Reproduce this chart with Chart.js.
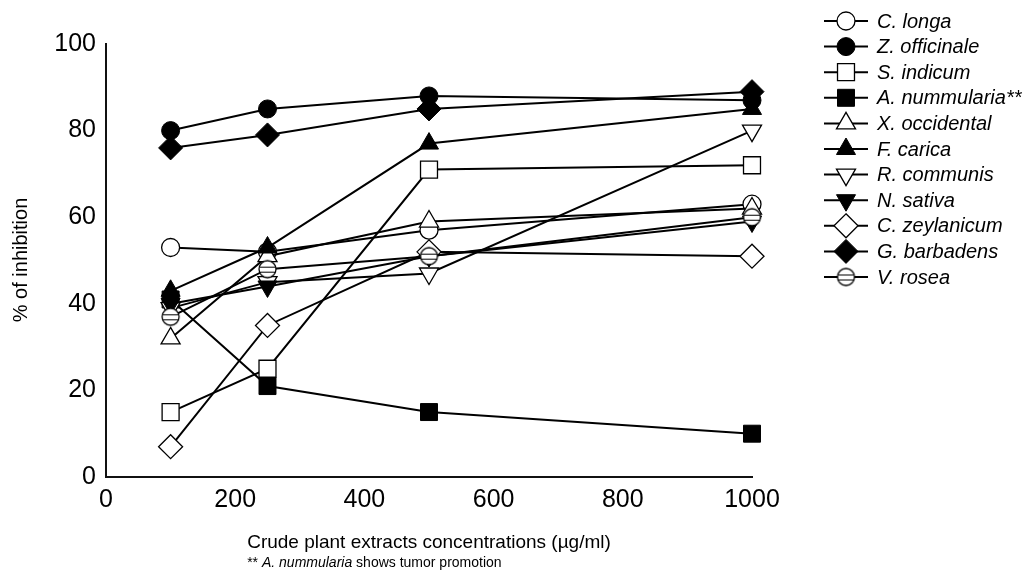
<!DOCTYPE html>
<html>
<head>
<meta charset="utf-8">
<script src="https://cdn.jsdelivr.net/npm/chart.js@4.4.0/dist/chart.umd.min.js"></script>
<style>
  html, body { margin: 0; padding: 0; background: #ffffff; }
  #wrap { width: 1036px; height: 573px; position: relative; }
  canvas { display: block; }
</style>
</head>
<body>
<div id="wrap"><canvas id="chart" width="1036" height="573"></canvas></div>
<script>
// ---------- DATA ----------
const concentrations = [100, 250, 500, 1000];
const seriesLabels = ['C. longa', 'Z. officinale', 'S. indicum', 'A. nummularia**', 'X. occidental',
                      'F. carica', 'R. communis', 'N. sativa', 'C. zeylanicum', 'G. barbadens', 'V. rosea'];
const cLonga      = [53, 52, 57, 63];
const zOfficinale = [80, 85, 88, 87];
const sIndicum    = [15, 25, 71, 72];
const aNummularia = [41, 21, 15, 10];
const xOccidental = [32, 51, 59, 62];
const fCarica     = [43, 53, 77, 85];
const rCommunis   = [39, 45, 47, 80];
const nSativa     = [40, 44, 51, 59];
const cZeylanicum = [7, 35, 52, 51];
const gBarbadens  = [76, 79, 85, 89];
const vRosea      = [37, 48, 51, 60];
const xTickValues = [0, 200, 400, 600, 800, 1000];
const yTickValues = [0, 20, 40, 60, 80, 100];
const xAxisTitle = 'Crude plant extracts concentrations (µg/ml)';
const yAxisTitle = '% of inhibition';
const footnoteParts = ['** ', 'A. nummularia', ' shows tumor promotion'];

const seriesValues = [cLonga, zOfficinale, sIndicum, aNummularia, xOccidental, fCarica,
                      rCommunis, nSativa, cZeylanicum, gBarbadens, vRosea];

// ---------- STYLES ----------
const FONT = "'Liberation Sans', Arial, Helvetica, sans-serif";

function makeStripedCircle(r) {
  const size = Math.ceil(r * 2 + 4);
  const c = document.createElement('canvas');
  c.width = size; c.height = size;
  const g = c.getContext('2d');
  const cx = size / 2, cy = size / 2;
  g.beginPath(); g.arc(cx, cy, r, 0, Math.PI * 2);
  g.fillStyle = '#fff'; g.fill();
  g.lineWidth = 1.3; g.strokeStyle = '#000'; g.stroke();
  g.save();
  g.beginPath(); g.arc(cx, cy, r, 0, Math.PI * 2); g.clip();
  g.lineWidth = 1.2;
  [-2.5, 2.5].forEach(function (dy) {
    g.beginPath(); g.moveTo(cx - r, Math.round(cy + dy) + 0.5); g.lineTo(cx + r, Math.round(cy + dy) + 0.5); g.stroke();
  });
  g.restore();
  return c;
}
const striped = makeStripedCircle(8.5);

const markerStyles = [
  { style: 'circle',   fill: false, r: 9,  rot: 0 },
  { style: 'circle',   fill: true,  r: 9,  rot: 0 },
  { style: 'rect',     fill: false, r: 12, rot: 0 },
  { style: 'rect',     fill: true,  r: 12, rot: 0 },
  { style: 'triangle', fill: false, r: 11, rot: 0 },
  { style: 'triangle', fill: true,  r: 11, rot: 0 },
  { style: 'triangle', fill: false, r: 11, rot: 180 },
  { style: 'triangle', fill: true,  r: 11, rot: 180 },
  { style: 'rectRot',  fill: false, r: 12, rot: 0 },
  { style: 'rectRot',  fill: true,  r: 12, rot: 0 },
  { style: 'striped',  fill: false, r: 9,  rot: 0 }
];

const datasets = seriesLabels.map(function (label, i) {
  const m = markerStyles[i];
  return {
    label: label,
    data: concentrations.map(function (x, j) { return { x: x, y: seriesValues[i][j] }; }),
    borderColor: '#000',
    borderWidth: 2,
    pointStyle: m.style === 'striped' ? striped : m.style,
    pointRadius: m.r,
    pointRotation: m.rot,
    pointBackgroundColor: m.fill ? '#000' : '#fff',
    pointBorderColor: '#000',
    pointBorderWidth: m.fill ? 1 : 1.3,
    fill: false,
    tension: 0,
    clip: false,
    order: seriesLabels.length - i
  };
});

// ---------- LEGEND / TEXT PLUGIN ----------
function drawMarker(ctx, m, x, y) {
  ctx.save();
  ctx.fillStyle = m.fill ? '#000' : '#fff';
  ctx.strokeStyle = '#000';
  ctx.lineWidth = m.fill ? 1 : 1.3;
  const r = m.r;
  if (m.style === 'striped') {
    ctx.drawImage(striped, x - striped.width / 2, y - striped.height / 2);
    ctx.restore();
    return;
  }
  ctx.beginPath();
  if (m.style === 'circle') {
    ctx.arc(x, y, r, 0, Math.PI * 2);
  } else if (m.style === 'rect') {
    const s = Math.SQRT1_2 * r;
    ctx.rect(x - s, y - s, 2 * s, 2 * s);
  } else if (m.style === 'triangle') {
    let rad = m.rot * Math.PI / 180;
    for (let k = 0; k < 3; k++) {
      const px = x + Math.sin(rad) * r, py = y - Math.cos(rad) * r;
      if (k === 0) ctx.moveTo(px, py); else ctx.lineTo(px, py);
      rad += 2 * Math.PI / 3;
    }
    ctx.closePath();
  } else if (m.style === 'rectRot') {
    ctx.moveTo(x, y - r); ctx.lineTo(x + r, y); ctx.lineTo(x, y + r); ctx.lineTo(x - r, y); ctx.closePath();
  }
  ctx.fill();
  ctx.stroke();
  ctx.restore();
}

const decorPlugin = {
  id: 'decor',
  afterDraw: function (chart) {
    const ctx = chart.ctx;
    const area = chart.chartArea;
    ctx.save();
    ctx.fillStyle = '#000';

    // y-axis title
    ctx.save();
    ctx.translate(21, 260);
    ctx.rotate(-Math.PI / 2);
    ctx.font = '20px ' + FONT;
    ctx.textAlign = 'center';
    ctx.textBaseline = 'middle';
    ctx.fillText(yAxisTitle, 0, 0);
    ctx.restore();

    // x-axis title
    ctx.font = '19px ' + FONT;
    ctx.textAlign = 'center';
    ctx.textBaseline = 'middle';
    const cx = (area.left + area.right) / 2;
    ctx.fillText(xAxisTitle, cx, 543);
    const titleW = ctx.measureText(xAxisTitle).width;

    // footnote
    let fx = cx - titleW / 2;
    ctx.textAlign = 'left';
    const fonts = ['14px ' + FONT, 'italic 14px ' + FONT, '14px ' + FONT];
    footnoteParts.forEach(function (t, k) {
      ctx.font = fonts[k];
      ctx.fillText(t, fx, 563);
      fx += ctx.measureText(t).width;
    });

    // legend
    const lx0 = 824, lx1 = 868, tx = 877;
    seriesLabels.forEach(function (label, i) {
      const y = 21 + 25.6 * i;
      ctx.beginPath();
      ctx.lineWidth = 2;
      ctx.strokeStyle = '#000';
      ctx.moveTo(lx0, y); ctx.lineTo(lx1, y); ctx.stroke();
      drawMarker(ctx, markerStyles[i], (lx0 + lx1) / 2, y);
      ctx.fillStyle = '#000';
      ctx.font = 'italic 20px ' + FONT;
      ctx.textAlign = 'left';
      ctx.textBaseline = 'middle';
      ctx.fillText(label, tx, y + 1);
    });
    ctx.restore();
  }
};

// ---------- CHART ----------
const PLOT_LEFT = 106, PLOT_RIGHT = 752, PLOT_TOP = 44, PLOT_BOTTOM = 477;
const W = 1036, H = 573;

new Chart(document.getElementById('chart'), {
  type: 'line',
  data: { datasets: datasets },
  options: {
    responsive: false,
    animation: false,
    devicePixelRatio: 1,
    layout: { padding: { left: 0, top: PLOT_TOP, right: W - PLOT_RIGHT, bottom: 0 } },
    plugins: { legend: { display: false }, tooltip: { enabled: false }, title: { display: false } },
    scales: {
      x: {
        type: 'linear',
        min: 0, max: 1000,
        grid: { display: false, drawTicks: false },
        border: { display: true, color: '#111', width: 2 },
        ticks: {
          color: '#000', font: { family: FONT, size: 25 }, padding: 8, maxRotation: 0,
          callback: function (v) { return String(v); }
        },
        afterBuildTicks: function (scale) { scale.ticks = xTickValues.map(function (v) { return { value: v }; }); },
        afterFit: function (scale) { scale.height = H - PLOT_BOTTOM; }
      },
      y: {
        type: 'linear',
        min: 0, max: 100,
        grid: { display: false, drawTicks: false },
        border: { display: true, color: '#111', width: 2 },
        ticks: {
          color: '#000', font: { family: FONT, size: 25 }, padding: 10,
          callback: function (v) { return String(v); }
        },
        afterBuildTicks: function (scale) { scale.ticks = yTickValues.map(function (v) { return { value: v }; }); },
        afterFit: function (scale) { scale.width = PLOT_LEFT; }
      }
    }
  },
  plugins: [decorPlugin]
});
</script>
</body>
</html>
